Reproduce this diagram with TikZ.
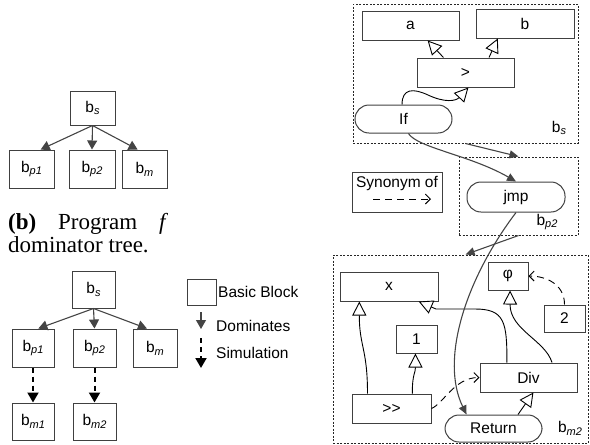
\documentclass[tikz,border=0pt]{standalone}
\usepackage{fontspec}
\newfontfamily\hv{Liberation Sans}
\newfontfamily\capfont{Liberation Serif}
\usetikzlibrary{arrows.meta,calc}
\definecolor{ink}{HTML}{404040}
\definecolor{edge}{HTML}{444444}
% block name b with an italic subscript
\newcommand\bsb[1]{b\raisebox{-0.35ex}{\fontsize{11}{11}\selectfont\itshape #1}}
\begin{document}
\begin{tikzpicture}[x=1pt,y=-1pt,
  every node/.style={font=\hv\fontsize{15.5}{17}\selectfont, inner sep=0pt},
  dim/.style 2 args={minimum width=#1pt, minimum height=#2pt},
  blk/.style={draw=ink, line width=1pt},
  rblk/.style={blk, rounded corners=14pt},
  cont/.style={draw=black!85, line width=1pt, dash pattern=on 2pt off 1.5pt},
  dom/.style={draw=edge, line width=1.1pt, -{Triangle[width=10pt,length=9pt]}},
  sim/.style={draw=black, line width=2pt, dash pattern=on 5pt off 4pt, -{Triangle[width=11pt,length=10pt]}},
  dat/.style={draw=black, line width=0.9pt, -{Triangle[open,fill=white,width=14pt,length=14pt]}},
  cfg/.style={draw=edge, line width=1.1pt, -{Triangle[width=8pt,length=9pt]}},
  syn/.style={draw=black, line width=0.9pt, dash pattern=on 7pt off 5pt, -{Straight Barb[length=5pt,width=10pt]}}]
\useasboundingbox (0,0) rectangle (590,445);

% ---- dominator tree of f ----
\node[blk,dim={45}{34}] (ts) at (92.5,108) {\bsb{s}};
\node[blk,dim={45}{38}] (tp1) at (31.5,169) {\bsb{p1}};
\node[blk,dim={46}{38}] (tp2) at (92,169) {\bsb{p2}};
\node[blk,dim={45}{38}] (tm) at (144.5,169) {\bsb{m}};
\draw[dom] (ts.south) -- ($(tp1.north)!0.4!(tp1.north east)$);
\draw[dom] (ts.south) -- (tp2.north);
\draw[dom] (ts.south) -- ($(tm.north)!0.3!(tm.north west)$);

\node[anchor=base west, font=\capfont\fontsize{23}{24}\selectfont] (cap1) at (8,229)
  {\makebox[160pt][l]{\textbf{(b)}\hfill Program\hfill \textit{f}}};
\node[anchor=base west, font=\capfont\fontsize{23}{24}\selectfont] (cap2) at (8,252)
  {dominator tree.};

% ---- dominator tree with simulation ----
\node[blk,dim={43}{37}] (us) at (93.5,289.5) {\bsb{s}};
\node[blk,dim={42}{38}] (up1) at (33,348) {\bsb{p1}};
\node[blk,dim={43}{38}] (up2) at (94.5,348) {\bsb{p2}};
\node[blk,dim={44}{38}] (um) at (155,348) {\bsb{m}};
\node[blk,dim={42}{37}] (um1) at (33,421.5) {\bsb{m1}};
\node[blk,dim={43}{37}] (um2) at (94.5,421.5) {\bsb{m2}};
\draw[dom] (us.south) -- ($(up1.north)!0.25!(up1.north east)$);
\draw[dom] (us.south) -- (up2.north);
\draw[dom] (us.south) -- ($(um.north)!0.36!(um.north west)$);
\draw[sim] (up1.south) -- (um1.north);
\draw[sim] (up2.south) -- (um2.north);

% ---- legend ----
\node[blk,dim={29}{26}] (lgb) at (201.5,292) {};
\node[anchor=west] (lgbt) at (218,292) {Basic Block};
\coordinate (d1) at (201,312);
\coordinate (d2) at (201,329);
\draw[dom] (d1) -- (d2);
\node[anchor=west] (lgdt) at (216,326) {Dominates};
\coordinate (s1) at (201,338);
\coordinate (s2) at (201,368);
\draw[sim] (s1) -- (s2);
\node[anchor=west] (lgst) at (216,353) {Simulation};

% ---- block b_s ----
\node[cont,dim={225}{139}] (cs) at (465.5,73.5) {};
\node[blk,dim={97}{29}] (na) at (410.5,25.5) {a};
\node[blk,dim={98}{29}] (nb) at (525,23.5) {b};
\node[blk,dim={97}{29}] (ngt) at (465.5,72.5) {>};
\node[rblk,dim={97}{28}] (nif) at (403.5,119) {If};
\node (lbs) at (559,128) {\bsb{s}};
\draw[dat] ($(ngt.north)!0.45!(ngt.north west)$) -- ($(na.south)!0.35!(na.south east)$);
\draw[dat] ($(ngt.north)!0.48!(ngt.north east)$) -- ($(nb.south)!0.55!(nb.south west)$);
\draw[dat] ($(nif.north)!0.03!(nif.north west)$) .. controls +(0,-16) and (413,88) .. (428,95)
  .. controls (445,103) and (456,101) .. ($(ngt.south)!0.06!(ngt.south east)$);

% ---- block b_p2 ----
\node[cont,dim={119}{78}] (cp2) at (518.5,196) {};
\node[rblk,dim={98}{30}] (njmp) at (516,197) {jmp};
\node (lbp2) at (547,222) {\bsb{p2}};

% ---- synonym legend ----
\node[blk,dim={90}{40}] (synb) at (397,192) {};
\node (synt) at (397,183) {Synonym of};
\coordinate (sy1) at (373,199);
\coordinate (sy2) at (431,199);
\draw[syn] (sy1) -- (sy2);

% ---- block b_m2 ----
\node[cont,dim={255}{188}] (cm2) at (460.5,349) {};
\node[blk,dim={98}{29}] (nx) at (389,286.5) {x};
\node[blk,dim={40}{28}] (nphi) at (508,276) {φ};
\node[blk,dim={41}{27}] (ntwo) at (564.5,318.5) {2};
\node[blk,dim={41}{28}] (none) at (416.5,339) {1};
\node[blk,dim={97}{29}] (ndiv) at (528.5,377.5) {Div};
\node[blk,dim={79}{29}] (nshr) at (391.5,408.5) {>{}>};
\node[rblk,dim={97}{27}] (nret) at (493.5,428.5) {Return};
\node (lbm2) at (570,428) {\bsb{m2}};

\draw[dat] ($(nshr.north)!0.6!(nshr.north west)$) .. controls +(0,-45) and +(0,45) .. ($(nx.south)!0.6!(nx.south west)$);
\draw[dat] ($(nshr.north)!0.52!(nshr.north east)$) .. controls +(0,-20) and +(0,20) .. ($(none.south)!0.05!(none.south west)$);
\draw[dat] ($(ndiv.north)!0.44!(ndiv.north west)$) .. controls +(0,-40) and (505,309) .. (475,309)
  -- (436,309) -- ($(nx.south east)!0.4!(nx.south)$);
\draw[dat] ($(ndiv.north)!0.48!(ndiv.north east)$) .. controls (545,340) and (510,330) .. ($(nphi.south)!0.1!(nphi.south east)$);
\draw[dat] ($(nret.north)!0.5!(nret.north east)$) -- ($(ndiv.south)!0.1!(ndiv.south east)$);
\draw[syn] (ntwo.north) .. controls +(0,-20) and +(18,0) .. (nphi.east);
\draw[syn] (nshr.east) .. controls +(12,-5) and +(-25,0) .. (ndiv.west);

% ---- control flow between blocks ----
\draw[cfg] ($(nif.south)!0.1!(nif.south east)$) .. controls (418,148) and (470,155) .. (njmp.north);
\draw[cfg] (cs.south) -- (cp2.north);
\draw[cfg] (cp2.south) -- ($(cm2.north)!0.04!(cm2.north east)$);
\draw[cfg] (njmp.south) .. controls (465,280) and (440,360) .. ($(nret.north)!0.55!(nret.north west)$);
\end{tikzpicture}
\end{document}
